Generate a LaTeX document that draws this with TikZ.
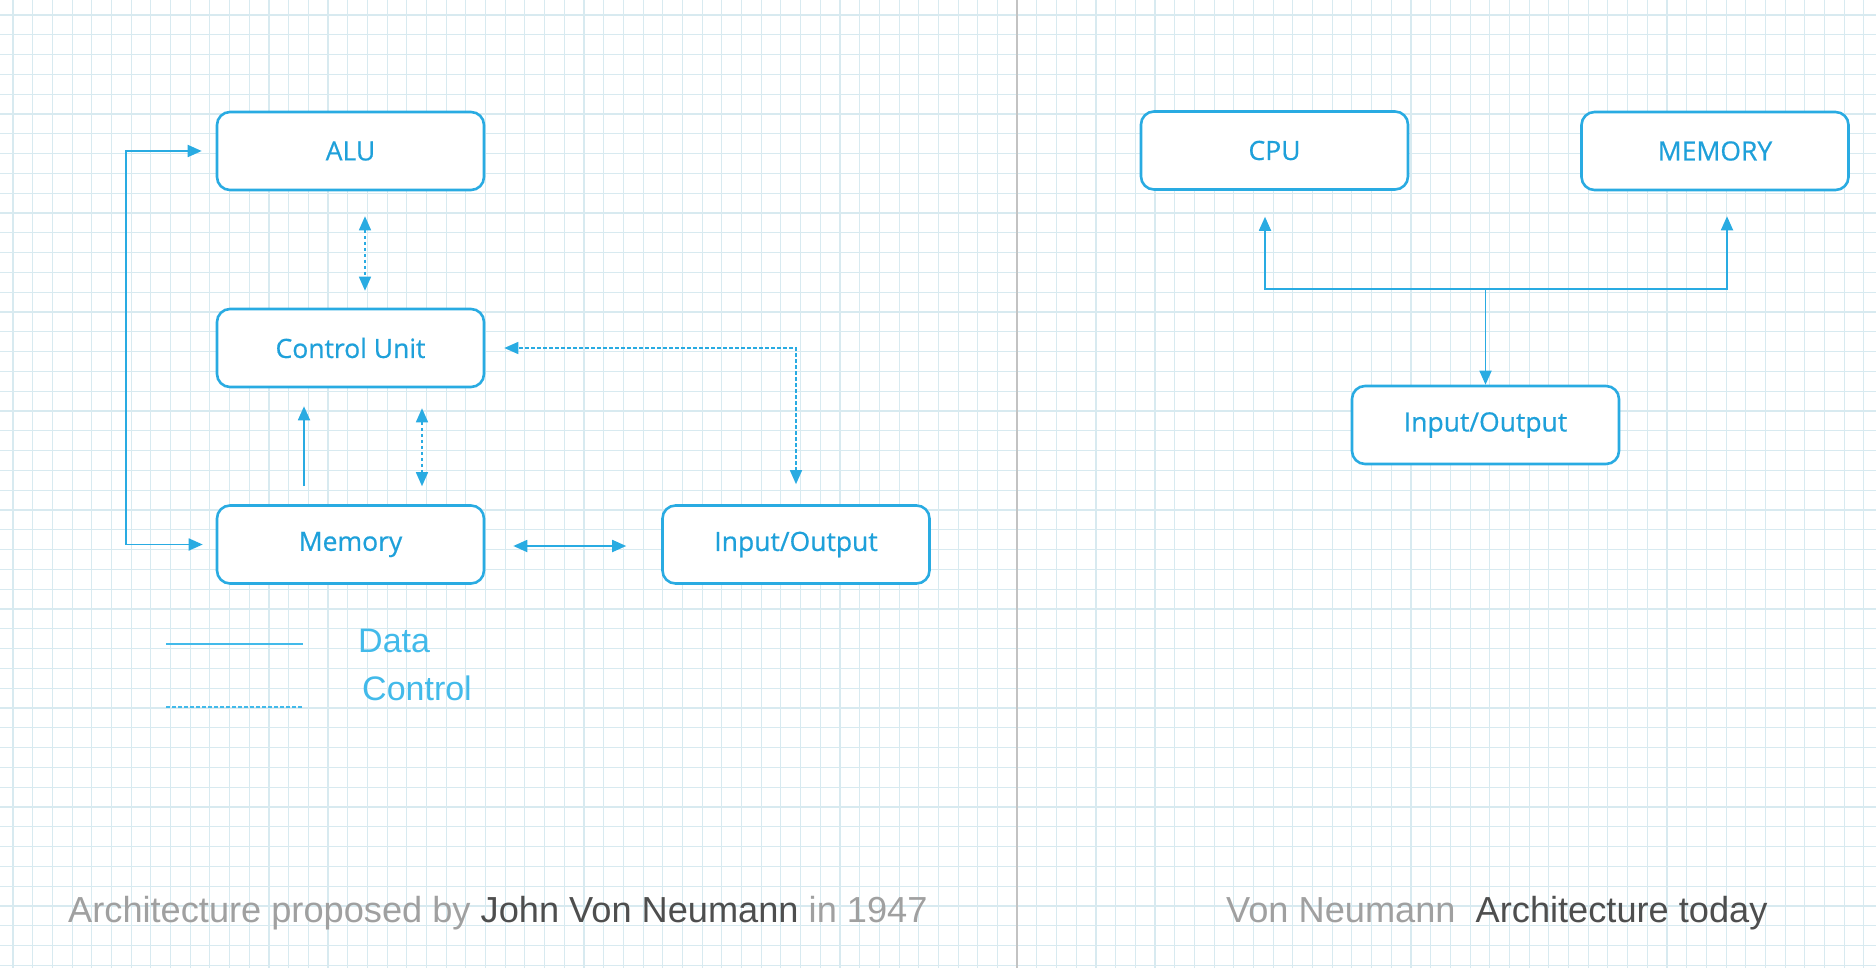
\documentclass[tikz,border=0pt]{standalone}
\usepackage{fontspec}
\setmainfont{Open Sans}
\newfontfamily\labelfont[FakeBold=0.6]{Open Sans}
\newfontfamily\notefont{Liberation Sans}
\usetikzlibrary{arrows.meta,calc}

\definecolor{lineblue}{RGB}{41,171,226}
\definecolor{textblue}{RGB}{30,160,218}
\definecolor{legendblue}{RGB}{66,186,234}
\definecolor{gridcol}{RGB}{216,234,240}
\definecolor{dividercol}{RGB}{195,195,195}
\definecolor{notelight}{RGB}{160,160,160}
\definecolor{notedark}{RGB}{78,78,78}

\begin{document}
\begin{tikzpicture}[x=1pt,y=-1pt,
  >={Triangle[length=14pt,width=12pt]},
  unitbox/.style={draw=lineblue, line width=2.6pt, fill=white,
    rounded corners=13pt, minimum width=267pt, minimum height=78pt,
    inner sep=0pt, text=textblue, font=\labelfont\fontsize{26.5}{30}\selectfont},
  datalink/.style={draw=lineblue, line width=1.8pt},
  ctrllink/.style={draw=lineblue, line width=1.5pt,
    dash pattern=on 3.5pt off 2.5pt},
  gridline/.style={draw=gridcol, line width=1.1pt},
  legendtext/.style={anchor=base west, inner sep=0pt, text=legendblue,
    font=\notefont\fontsize{34}{38}\selectfont},
  notetext/.style={anchor=base west, inner sep=0pt, text=notelight,
    font=\notefont\fontsize{36.2}{40}\selectfont}
]
% page and graph paper
\useasboundingbox (0,0) rectangle (1876,968);
\fill[white] (0,0) rectangle (1876,968);
\foreach \i in {0,...,94} {
  \draw[gridline] ({13+19.69*\i},0) -- ({13+19.69*\i},968);
}
\foreach \j in {0,...,48} {
  \draw[gridline] (0,{15+19.8*\j}) -- (1876,{15+19.8*\j});
}
% divider between the two panels
\draw[dividercol, line width=1.6pt] (1017,0) -- (1017,968);

% ---- original architecture ----
\node[unitbox] (ALU)    at (350.5,151)   {ALU};
\node[unitbox] (CU)     at (350.5,348)   {Control Unit};
\node[unitbox] (Memory) at (350.5,544.5) {Memory};
\node[unitbox] (IOa)    at (796,544.5)   {Input/Output};

% data paths
\draw[datalink,<->] ($(ALU.west)+(-14,0)$) -- ++(-76,0)
  |- ($(Memory.west)+(-13,0)$);
\draw[datalink,->] ($(Memory.north)+(-46.5,-18)$) -- ($(CU.south)+(-46.5,18)$);
\draw[datalink,<->] ($(Memory.east)+(28,1.5)$) -- ($(IOa.west)+(-35,1.5)$);

% control paths
\draw[ctrllink,<->] ($(ALU.south)+(14.5,25)$) -- ($(CU.north)+(14.5,-17)$);
\draw[ctrllink,<->] ($(CU.south)+(71.5,20)$) -- ($(Memory.north)+(71.5,-18)$);
\draw[ctrllink,<->] ($(IOa.north)+(0,-20)$) |- ($(CU.east)+(19,0)$);

% legend
\coordinate (dataA) at (166,644);
\coordinate (dataB) at (303,644);
\coordinate (ctrlA) at (166,707);
\coordinate (ctrlB) at (303,707);
\draw[draw=legendblue, line width=1.5pt] (dataA) -- (dataB);
\draw[draw=legendblue, line width=1.5pt, dash pattern=on 3.5pt off 2.5pt] (ctrlA) -- (ctrlB);
\node[legendtext] (datalabel) at (358,652) {Data};
\node[legendtext] (ctrllabel) at (362,700) {Control};

\node[notetext] (capleft) at (68,922)
  {Architecture proposed by \textcolor{notedark}{John Von Neumann} in 1947};

% ---- architecture today ----
\node[unitbox] (CPU) at (1274.5,150.5) {CPU};
\node[unitbox] (MEM) at (1715,151)     {MEMORY};
\node[unitbox] (IOb) at (1485.5,425)   {Input/Output};

\coordinate (bus) at ($(IOb.north)+(0,-96)$);
\draw[datalink,->] (bus) -| ($(CPU.south)+(-9.5,26)$);
\draw[datalink,->] (bus) -| ($(MEM.south)+(12,25)$);
\draw[datalink,->] (bus) -- (IOb.north);

\node[notetext] (capright) at (1226,922)
  {Von Neumann\hspace{10pt} \textcolor{notedark}{Architecture today}};
\end{tikzpicture}
\end{document}
